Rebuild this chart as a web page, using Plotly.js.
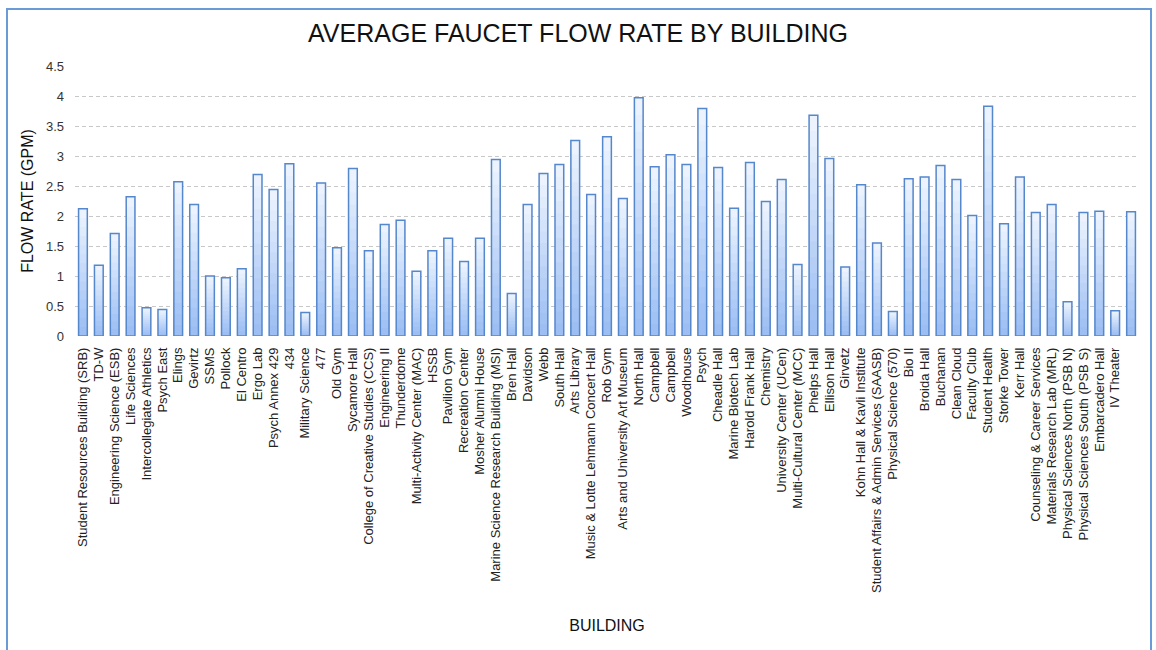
<!DOCTYPE html>
<html>
<head>
<meta charset="utf-8">
<script src="https://cdn.plot.ly/plotly-3.0.1.min.js"></script>
<style>
  html, body { margin: 0; padding: 0; background: #ffffff; }
  #wrap { position: relative; width: 1156px; height: 650px; overflow: hidden; }
  #chart { position: absolute; left: 0; top: 0; width: 1156px; height: 650px; }
  #frame { position: absolute; left: 6px; top: 8px; width: 1142px; height: 700px;
           border: 2px solid #6b9bd6; pointer-events: none; }
</style>
</head>
<body>
<div id="wrap">
  <div id="chart"></div>
  <div id="frame"></div>
</div>
<script>
// ---- data ----
const buildings = [
  "Student Resources Building (SRB)", "TD-W", "Engineering Science (ESB)", "Life Sciences",
  "Intercollegiate Athletics", "Psych East", "Elings", "Gevirtz", "SSMS", "Pollock",
  "El Centro", "Ergo Lab", "Psych Annex 429", "434", "Military Science", "477", "Old Gym",
  "Sycamore Hall", "College of Creative Studies (CCS)", "Engineering II", "Thunderdome",
  "Multi-Activity Center (MAC)", "HSSB", "Pavilion Gym", "Recreation Center",
  "Mosher Alumni House", "Marine Science Research Building (MSI)", "Bren Hall", "Davidson",
  "Webb", "South Hall", "Arts Library", "Music & Lotte Lehmann Concert Hall", "Rob Gym",
  "Arts and University Art Museum", "North Hall", "Campbell", "Campbell", "Woodhouse",
  "Psych", "Cheadle Hall", "Marine Biotech Lab", "Harold Frank Hall", "Chemistry",
  "University Center (UCen)", "Multi-Cultural Center (MCC)", "Phelps Hall", "Ellison Hall",
  "Girvetz", "Kohn Hall & Kavli Institute", "Student Affairs & Admin Services (SAASB)",
  "Physical Science (570)", "Bio II", "Broida Hall", "Buchanan", "Clean Cloud",
  "Faculty Club", "Student Health", "Storke Tower", "Kerr Hall",
  "Counseling & Career Services", "Materials Research Lab (MRL)",
  "Physical Sciences North (PSB N)", "Physical Sciences South (PSB S)",
  "Embarcadero Hall", "IV Theater", ""
];
const flowRate = [
  2.12, 1.18, 1.71, 2.32, 0.47, 0.44, 2.57, 2.19, 1.00, 0.97,
  1.12, 2.69, 2.44, 2.87, 0.39, 2.55, 1.47, 2.79, 1.42, 1.86, 1.93,
  1.08, 1.42, 1.63, 1.24, 1.63, 2.94, 0.71, 2.19, 2.71, 2.86, 3.26,
  2.36, 3.32, 2.29, 3.97, 2.82, 3.02, 2.86, 3.79, 2.81, 2.13,
  2.89, 2.24, 2.61, 1.19, 3.68, 2.96, 1.15, 2.52, 1.55, 0.41,
  2.62, 2.65, 2.84, 2.61, 2.01, 3.83, 1.87, 2.65, 2.06, 2.19,
  0.57, 2.06, 2.08, 0.42, 2.07
];
const yTicks = [0, 0.5, 1, 1.5, 2, 2.5, 3, 3.5, 4, 4.5];

// ---- build traces: stepped vertical gradient per bar, then outline ----
const positions = buildings.map((_, i) => i);
const STEPS = 14;
const topRGB = [236, 243, 254];
const botRGB = [156, 190, 243];
function mix(t) {
  const c = topRGB.map((a, j) => Math.round(a + (botRGB[j] - a) * t));
  return 'rgb(' + c.join(',') + ')';
}
const traces = [];
for (let k = 0; k < STEPS; k++) {
  const frac = (STEPS - k) / STEPS;
  traces.push({
    type: 'bar',
    x: positions,
    y: flowRate.map(v => v * frac),
    width: 0.55,
    textposition: 'none',
    marker: { color: mix(k / (STEPS - 1)), line: { width: 0 } },
    hoverinfo: 'skip',
    showlegend: false
  });
}
traces.push({
  type: 'bar',
  x: positions,
  y: flowRate,
  width: 0.55,
  customdata: buildings,
  textposition: 'none',
  hovertemplate: '%{customdata}: %{y}<extra></extra>',
  marker: { color: 'rgba(0,0,0,0)', line: { color: '#5587cc', width: 1.5 } },
  showlegend: false
});

const font = 'Liberation Sans, Arial, sans-serif';
const layout = {
  width: 1156,
  height: 650,
  paper_bgcolor: '#ffffff',
  plot_bgcolor: '#ffffff',
  barmode: 'overlay',
  showlegend: false,
  margin: { l: 74.8, r: 16.6, t: 65.7, b: 314.3, pad: 0 },
  font: { family: font, color: '#333333', size: 13 },
  title: {
    text: 'AVERAGE FAUCET FLOW RATE BY BUILDING',
    font: { family: font, size: 25, color: '#111111' },
    x: 0.5, xref: 'container', xanchor: 'center',
    y: 1 - 33 / 650, yref: 'container', yanchor: 'middle'
  },
  xaxis: {
    range: [-0.5, buildings.length - 0.5],
    tickmode: 'array',
    tickvals: positions,
    ticktext: buildings,
    tickangle: -90,
    tickfont: { family: font, size: 13, color: '#222222' },
    ticks: '',
    ticklabelstandoff: 8,
    showgrid: false,
    zeroline: false,
    showline: false,
    automargin: false,
    title: { text: 'BUILDING', font: { family: font, size: 16, color: '#111111' }, standoff: 27 }
  },
  yaxis: {
    range: [0, 4.5],
    tickmode: 'array',
    tickvals: yTicks,
    ticktext: yTicks.map(v => String(v)),
    tickfont: { family: font, size: 13, color: '#333333' },
    ticks: '',
    ticklabelstandoff: 10,
    showgrid: true,
    gridcolor: '#c8c8c8',
    gridwidth: 1,
    griddash: '4px,3px',
    zeroline: false,
    showline: false,
    automargin: false,
    title: { text: 'FLOW RATE (GPM)', font: { family: font, size: 16, color: '#111111' }, standoff: 8 }
  }
};

Plotly.newPlot('chart', traces, layout, { displayModeBar: false, staticPlot: true });
</script>
</body>
</html>
